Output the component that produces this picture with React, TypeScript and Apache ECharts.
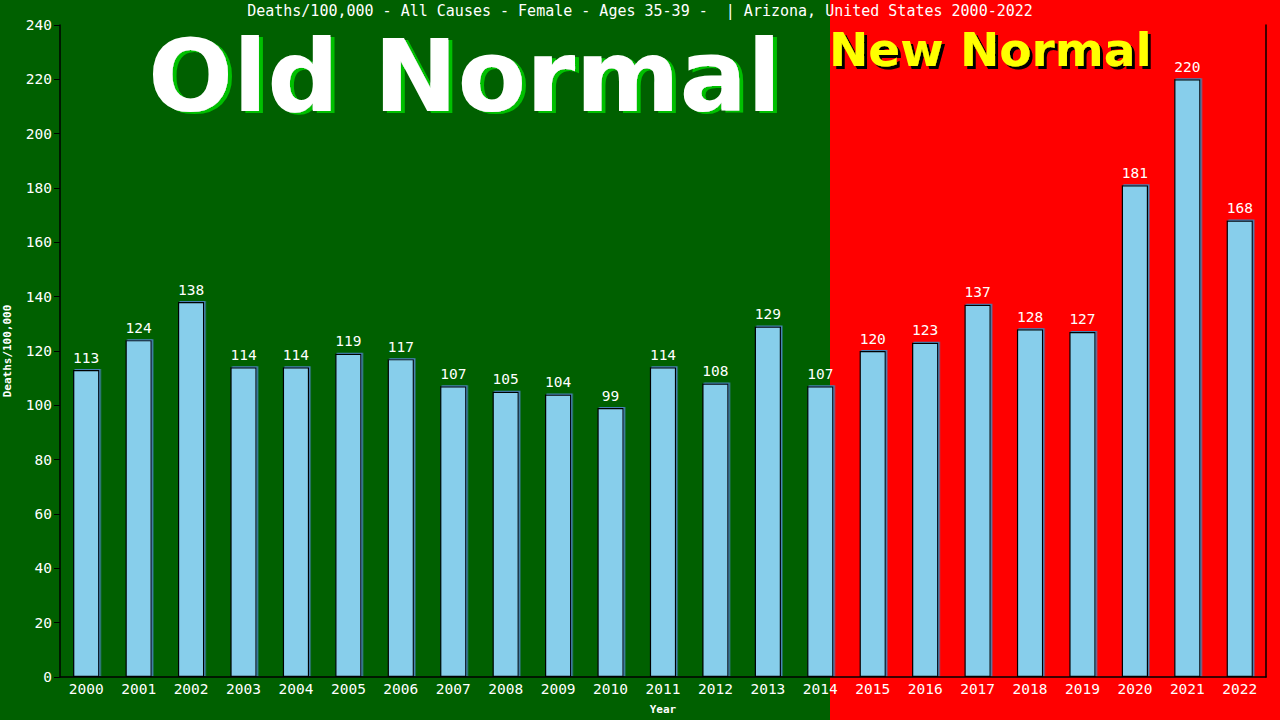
import React, { useEffect, useRef } from "react";
import * as echarts from "echarts";

const years = ["2000","2001","2002","2003","2004","2005","2006","2007","2008","2009","2010","2011","2012","2013","2014","2015","2016","2017","2018","2019","2020","2021","2022"];
const deaths = [113,124,138,114,114,119,117,107,105,104,99,114,108,129,107,120,123,137,128,127,181,220,168];
const titleText = "Deaths/100,000 - All Causes - Female - Ages 35-39 -  | Arizona, United States 2000-2022";

const MONO = "'DejaVu Sans Mono', monospace";
const BIG = "bold 100px 'DejaVu Sans'";
const MID = "bold 47px 'DejaVu Sans'";

export default function App() {
  const ref = useRef<HTMLDivElement>(null);
  useEffect(() => {
    const chart = echarts.init(ref.current!, null, { renderer: "svg" });
    chart.setOption({
      animation: false,
      backgroundColor: "#006000",
      graphic: [
        { type: "rect", left: 830, top: 0, shape: { width: 450, height: 720 }, style: { fill: "#FF0000" }, z: -10 },
        {
          type: "text", left: 148, top: 26, z: 2,
          style: { text: "Old Normal", fill: "#ffffff", font: BIG, textShadowColor: "#00C000", textShadowOffsetX: 4, textShadowOffsetY: 2, textShadowBlur: 0.5 },
        },
        {
          type: "text", left: 829, top: 26, z: 2,
          style: { text: "New Normal", fill: "#FFFF00", font: MID, textShadowColor: "#000000", textShadowOffsetX: 3, textShadowOffsetY: 3, textShadowBlur: 0.5 },
        },
      ],
      title: {
        text: titleText,
        left: "center",
        top: -2,
        textStyle: { color: "#ffffff", fontFamily: MONO, fontSize: 15, fontWeight: "normal" },
      },
      grid: { left: 60, right: 14, top: 25, bottom: 43, containLabel: false, outerBoundsMode: "none" },
      xAxis: {
        type: "category",
        data: years,
        name: "Year",
        nameLocation: "middle",
        nameGap: 27,
        nameTextStyle: { color: "#ffffff", fontFamily: MONO, fontSize: 11, fontWeight: "bold" },
        axisLine: { lineStyle: { color: "#000000", width: 1.5 } },
        axisTick: { show: false },
        axisLabel: { color: "#ffffff", fontFamily: MONO, fontSize: 14.5, margin: 4 },
      },
      yAxis: [
        {
          type: "value",
          min: 0, max: 240, interval: 20,
          name: "Deaths/100,000",
          nameLocation: "middle",
          nameGap: 47,
          nameTextStyle: { color: "#ffffff", fontFamily: MONO, fontSize: 11, fontWeight: "bold" },
          axisLine: { show: true, lineStyle: { color: "#000000", width: 1.5 } },
          axisTick: { show: true, length: 6, lineStyle: { color: "#000000" } },
          splitLine: { show: false },
          axisLabel: { color: "#ffffff", fontFamily: MONO, fontSize: 14.5, margin: 8 },
        },
        {
          type: "value",
          position: "right",
          min: 0, max: 240, interval: 20,
          axisLine: { show: true, lineStyle: { color: "#000000", width: 1.5 } },
          axisTick: { show: false },
          axisLabel: { show: false },
          splitLine: { show: false },
        },
      ],
      series: [
        {
          type: "bar",
          data: deaths,
          barWidth: "50%",
          itemStyle: {
            color: "#87CEEB",
            borderColor: "#000000",
            borderWidth: 1.2,
            shadowColor: "#4682B4",
            shadowOffsetX: 1.5,
            shadowOffsetY: -1,
            shadowBlur: 0,
          },
          label: {
            show: true,
            position: "top",
            distance: 5,
            color: "#ffffff",
            fontFamily: MONO,
            fontSize: 14.5,
          },
        },
      ],
    });
    return () => chart.dispose();
  }, []);
  return <div ref={ref} style={{ width: 1280, height: 720, position: "absolute", left: 0, top: 0 }} />;
}
